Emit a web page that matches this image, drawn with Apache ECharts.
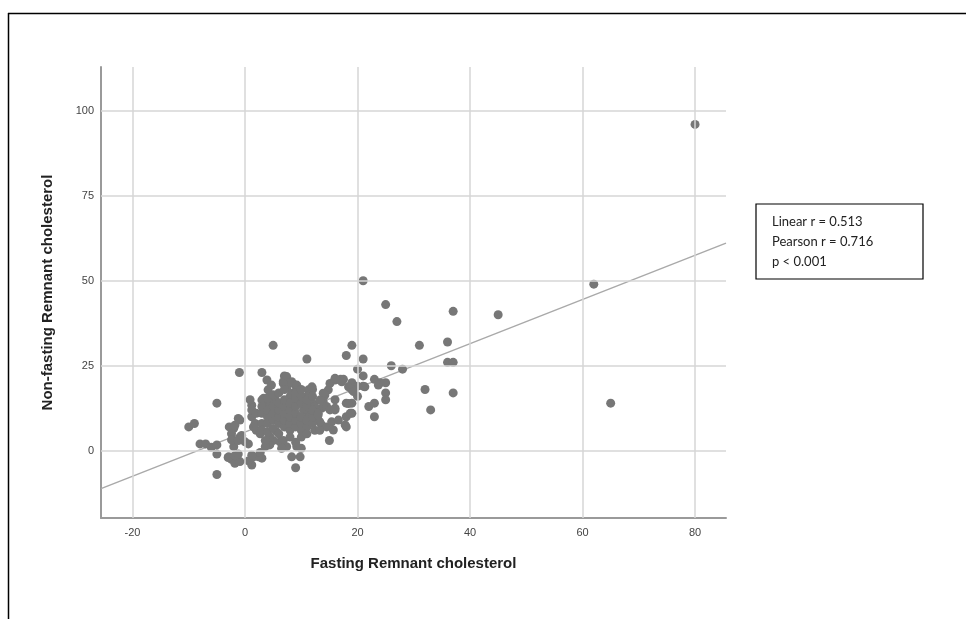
<!DOCTYPE html>
<html>
<head>
<meta charset="utf-8">
<script src="https://cdn.jsdelivr.net/npm/echarts@6/dist/echarts.min.js"></script>
<style>
  html, body { margin: 0; padding: 0; background: #fff; }
  #chart-box { width: 966px; height: 619px; }
</style>
</head>
<body>
<div id="chart-box"></div>
<script>
// tick labels
const xTicks = [-20, 0, 20, 40, 60, 80];
const yTicks = [0, 25, 50, 75, 100];

// fit line
const fitIntercept = 5.5;
const fitSlope = 0.65;

// sparse points and outliers
const outerPoints = [
    [80, 96], [62, 49], [65, 14], [21, 50], [25, 43], [27, 38], [37, 41], [45, 40],
    [31, 31], [36, 32], [36, 26], [37, 26], [32, 18], [37, 17], [33, 12], [28, 24],
    [26, 25], [11, 27], [19, 31], [18, 28], [21, 27], [20, 24], [21, 22], [5, 31],
    [-1, 23], [3, 23], [-5, 14], [-10, 7], [-9, 8], [-8, 2], [-7, 2], [-6, 1],
    [-5, 1.7], [-5, -1], [-5, -7], [-3, -2], [-2.8, 7]
];

// points right of the main cluster
const rightPoints = [
    [23, 21], [24, 20], [25, 20], [23.7, 19.3], [25, 17], [25, 15], [22, 13], [23, 14],
    [23, 10], [21.3, 18.8], [21, 19], [20, 16], [19, 14], [18, 14], [19, 11], [18, 7],
    [15, 3], [16, 12], [16, 15], [17, 21], [17.5, 21], [19, 20], [20, 19], [12, 18],
    [7, 22], [8, 20], [16, 20.8], [17.2, 20.3], [18.4, 18.8], [15.1, 19.8], [14.8, 17.9],
    [14.2, 16.4], [13.9, 14.4], [13.6, 12.5], [14.5, 13], [15.1, 12], [16, 12.5], [13, 9],
    [13.6, 7.6], [14.5, 7], [15.4, 8.5], [16.6, 9], [18, 10], [11.3, 17.9], [11.9, 18.8],
    [11, 16], [12, 14], [11.3, 11], [12.4, 6], [13.3, 6], [19, 17.9], [18.7, 11],
    [17.8, 7.6], [15.7, 6.1], [13.3, 8.5], [11.6, 10.5], [10.4, 12], [9.2, 13.9], [8, 15.9],
    [13.9, 16.9], [13.3, 14.9], [12.4, 13], [19.3, 17.4], [16, 21.3], [6.8, 20.3],
    [8.9, 19.3], [18.4, 13.9]
];

// points left of and under the main cluster
const leftPoints = [
    [-2, -2], [-2.4, -2.5], [-1.8, -3.7], [-0.9, -3.2], [1.2, -4.2], [1.5, -1.8], [3, -2.2],
    [-2, 1.2], [-2, 6.6], [-0.9, 9], [-0.9, 4], [-2, 3], [0, 2.6], [0.6, 2], [1.2, 10],
    [1.2, 13.4], [1.2, 12], [2, 11], [1.5, 7], [2, 6], [2.7, 5], [3.3, 15.4], [4.2, 14],
    [5, 3], [4.4, 1.7], [3.9, 20.8], [4.7, 19.3], [4.1, 17.9], [7.4, 21.8], [6.8, 19.8],
    [8.3, 20.3], [9.2, 19.3], [7.4, 18.4], [8.3, 16.9], [5.3, 15.4], [5.6, 14.4], [3, 14.9],
    [0.9, 15], [1.8, 8], [-1.2, 9.5], [-1.8, 7.5], [-2.4, 5], [-2.4, 3.2], [-1.2, 3],
    [-0.6, 4.5], [-2.9, -1.8], [-1.8, -1.5], [-1.2, -1], [0.6, -3], [2.4, -1.8], [2.7, -0.5],
    [1.2, -1.3], [3.6, 1.2], [6.2, 2.6], [7.4, 1.2], [8.3, -1.8], [9.8, -1.8], [9, -5],
    [6.8, 3], [5.6, 5.6], [4.4, 4.1], [3.6, 3], [9.2, 1.2], [10, 0.7], [6.5, 0.7]
];

// dense core of the cluster
const corePoints = [
    [3, 11], [3, 13], [3, 8], [3, 6],
    [4, 10], [4, 12], [4, 15.5], [4, 8], [4, 5.5],
    [5, 9], [5, 11], [5, 13], [5, 16.5], [5, 6.5],
    [6, 8], [6, 10], [6, 12], [6, 14], [6, 17], [6, 5],
    [7, 7], [7, 9], [7, 11], [7, 13], [7, 15], [7, 18],
    [8, 6], [8, 8], [8, 10], [8, 12], [8, 14], [8, 4],
    [9, 7], [9, 9], [9, 11], [9, 13], [9, 15.5], [9, 17], [9, 2.5],
    [10, 6], [10, 8], [10, 10], [10, 14], [10, 16], [10, 18], [10, 4],
    [11, 7], [11, 9], [11, 13], [11, 15], [11, 5],
    [12, 8], [12, 10], [12, 12], [12, 16],
    [13, 11], [13, 10.5]
];

const xMin = -25.6, xMax = 85.5;
const yMin = -19.8, yMax = 112.9;

function init(){
    const element = document.getElementById("chart-box");
    const instance = echarts.init(element, null, { renderer: 'canvas' });

    const points = outerPoints.concat(rightPoints, leftPoints, corePoints);
    const fitLine = [xMin, xMax].map(x => [x, fitIntercept + fitSlope * x]);

    const gridStyle = { color: '#d6d6d6', width: 1.5, type: 'solid' };

    let option = {
        animation: false,
        textStyle: { fontFamily: 'Liberation Sans, Arial, sans-serif' },
        grid: { left: 101, right: 240, top: 67, bottom: 101, containLabel: false },
        xAxis: {
            type: 'value',
            min: xMin,
            max: xMax,
            name: 'Fasting Remnant cholesterol',
            nameLocation: 'middle',
            nameGap: 38,
            nameTextStyle: { fontSize: 15, fontWeight: 'bold', color: '#222' },
            axisLine: { show: true, onZero: false, lineStyle: { color: '#9a9a9a', width: 2 } },
            axisTick: { show: false },
            splitLine: { show: false },
            axisLabel: { customValues: xTicks, fontSize: 11, color: '#444', margin: 9 }
        },
        yAxis: {
            type: 'value',
            min: yMin,
            max: yMax,
            name: 'Non-fasting Remnant cholesterol',
            nameLocation: 'middle',
            nameGap: 46,
            nameTextStyle: { fontSize: 15, fontWeight: 'bold', color: '#222' },
            axisLine: { show: true, onZero: false, lineStyle: { color: '#9a9a9a', width: 2 } },
            axisTick: { show: false },
            splitLine: { show: false },
            axisLabel: { customValues: yTicks, fontSize: 11, color: '#444', margin: 7 }
        },
        graphic: [
            { type: 'line', shape: { x1: 8, y1: 13.5, x2: 966, y2: 13.5 }, style: { stroke: '#000', lineWidth: 1.5 } },
            { type: 'line', shape: { x1: 8.5, y1: 13, x2: 8.5, y2: 619 }, style: { stroke: '#000', lineWidth: 1.5 } },
            { type: 'rect', shape: { x: 756, y: 204, width: 167, height: 75 },
              style: { fill: '#fff', stroke: '#000', lineWidth: 1.2 } },
            { type: 'text', left: 772, top: 212,
              style: { text: 'Linear r = 0.513\nPearson r = 0.716\np < 0.001',
                       font: '13px Lato, sans-serif', fill: '#222', lineHeight: 20 } }
        ],
        series: [
            {
                type: 'line',
                data: fitLine,
                symbol: 'none',
                silent: true,
                z: 1,
                lineStyle: { color: '#a9a9a9', width: 1.4 },
                markLine: {
                    silent: true,
                    symbol: 'none',
                    label: { show: false },
                    lineStyle: gridStyle,
                    data: xTicks.map(v => ({ xAxis: v })).concat(yTicks.map(v => ({ yAxis: v })))
                }
            },
            {
                type: 'scatter',
                data: points,
                symbolSize: 9,
                z: 3,
                itemStyle: { color: '#777777', opacity: 1 }
            }
        ]
    };

    instance && instance.setOption(option);

    window.onresize = function(){
        instance.resize();
    };
}
init();
</script>
</body>
</html>
